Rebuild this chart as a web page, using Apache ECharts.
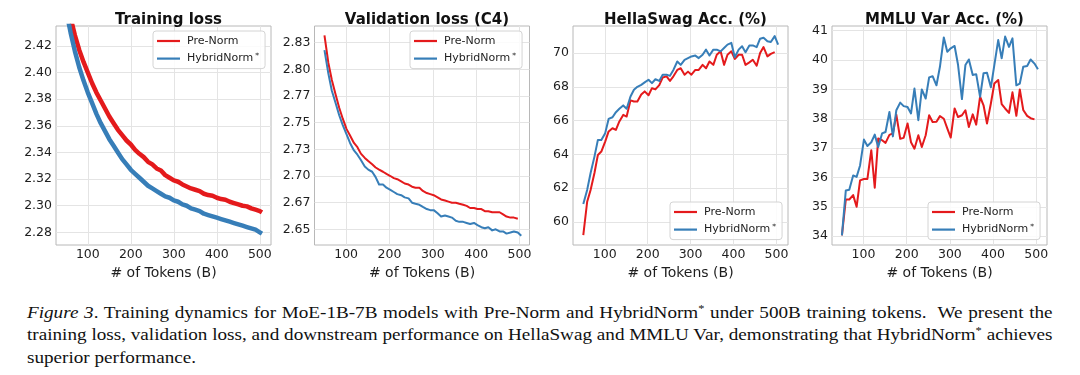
<!DOCTYPE html>
<html>
<head>
<meta charset="utf-8">
<script src="https://cdn.jsdelivr.net/npm/echarts@6/dist/echarts.min.js"></script>
<style>
  html, body { margin: 0; padding: 0; background: #fff; }
  #main { position: absolute; left: 0; top: 0; width: 1080px; height: 300px; }
  #caption {
    position: absolute; left: 27px; top: 302px; width: 1025px;
    font-family: 'Liberation Serif', serif; font-size: 17px; color: #111;
    transform-origin: 0 0;
  }
  #caption .ln { line-height: 22.4px; height: 22.4px; white-space: nowrap; }
  #caption .ln.j { text-align: justify; text-align-last: justify; }
  #caption sup { font-size: 11px; vertical-align: 0; position: relative; top: -6px; }
</style>
</head>
<body>
<div id="main"></div>
<div id="caption">
  <div class="ln j"><i>Figure 3</i>. Training dynamics for MoE-1B-7B models with Pre-Norm and HybridNorm<sup>*</sup> under 500B training tokens.&nbsp; We present the</div>
  <div class="ln j">training loss, validation loss, and downstream performance on HellaSwag and MMLU Var, demonstrating that HybridNorm<sup>*</sup> achieves</div>
  <div class="ln">superior performance.</div>
</div>
<script>
// ---- data ----
var tokenTicks = [100, 200, 300, 400, 500];

// training loss (sampled every 10B tokens)
var trainTokens = [50, 60, 70, 80, 90, 100, 110, 120, 130, 140,
  150, 160, 170, 180, 190, 200, 210, 220, 230, 240,
  250, 260, 270, 280, 290, 300, 310, 320, 330, 340,
  350, 360, 370, 380, 390, 400, 410, 420, 430, 440,
  450, 460, 470, 480, 490, 500, 505];
var trainPre = [2.462, 2.441, 2.428, 2.417, 2.408, 2.400, 2.392, 2.385, 2.379, 2.373,
  2.367, 2.362, 2.357, 2.353, 2.349, 2.346, 2.342, 2.339, 2.3365, 2.333,
  2.331, 2.328, 2.3265, 2.323, 2.321, 2.319, 2.318, 2.316, 2.3145, 2.313,
  2.312, 2.311, 2.309, 2.308, 2.3075, 2.306, 2.305, 2.3045, 2.303, 2.302,
  2.301, 2.300, 2.2995, 2.298, 2.297, 2.296, 2.295];
var trainHybrid = [2.446, 2.430, 2.416, 2.404, 2.394, 2.385, 2.377, 2.369, 2.362, 2.356,
  2.350, 2.345, 2.340, 2.335, 2.331, 2.327, 2.324, 2.321, 2.318, 2.315,
  2.313, 2.311, 2.309, 2.307, 2.306, 2.304, 2.303, 2.301, 2.300, 2.298,
  2.297, 2.296, 2.294, 2.293, 2.292, 2.291, 2.290, 2.289, 2.288, 2.287,
  2.286, 2.285, 2.284, 2.283, 2.282, 2.280, 2.279];
var trainYTicks = [2.28, 2.30, 2.32, 2.34, 2.36, 2.38, 2.40, 2.42];

// evaluation checkpoints (Pre-Norm stops one checkpoint earlier)
var evalTokens = [50, 59, 67, 76, 84, 92, 101, 109, 118, 126,
  134, 143, 151, 160, 168, 176, 185, 193, 202, 210,
  218, 227, 235, 244, 252, 260, 269, 277, 286, 294,
  302, 311, 319, 328, 336, 344, 353, 361, 370, 378,
  386, 395, 403, 412, 420, 428, 437, 445, 454, 462,
  470, 479, 487, 496, 504];

var valPre = [2.832, 2.806, 2.790, 2.776, 2.764, 2.754, 2.744, 2.738, 2.731, 2.727,
  2.721, 2.717, 2.714, 2.711, 2.708, 2.706, 2.704, 2.702, 2.700, 2.698,
  2.697, 2.695, 2.693, 2.692, 2.690, 2.689, 2.689, 2.686, 2.684, 2.683,
  2.682, 2.680, 2.678, 2.677, 2.676, 2.675, 2.675, 2.674, 2.673, 2.672,
  2.670, 2.670, 2.669, 2.669, 2.667, 2.667, 2.666, 2.666, 2.666, 2.664,
  2.662, 2.661, 2.661, 2.660];
var valHybrid = [2.818, 2.796, 2.780, 2.768, 2.757, 2.748, 2.739, 2.731, 2.724, 2.720,
  2.715, 2.709, 2.706, 2.704, 2.699, 2.692, 2.692, 2.689, 2.687, 2.685,
  2.683, 2.682, 2.680, 2.679, 2.675, 2.674, 2.673, 2.671, 2.669, 2.668,
  2.668, 2.665, 2.662, 2.663, 2.662, 2.661, 2.658, 2.657, 2.657, 2.656,
  2.655, 2.656, 2.654, 2.652, 2.651, 2.652, 2.649, 2.650, 2.648, 2.648,
  2.646, 2.647, 2.648, 2.647, 2.644];
var valYTicks = [2.65, 2.675, 2.70, 2.725, 2.75, 2.775, 2.80, 2.825];
var valYLabels = ['2.65', '2.67', '2.70', '2.73', '2.75', '2.77', '2.80', '2.83'];

var hellaPre = [59.23, 61.2, 61.9, 62.9, 63.97, 64.17, 64.76, 65.36, 65.55, 65.45,
  65.95, 66.34, 66.24, 67.2, 67.13, 67.13, 67.55, 67.73, 67.5, 67.92,
  67.85, 68.1, 68.55, 68.62, 68.35, 68.62, 69.0, 69.1, 68.72, 68.9,
  68.72, 69.0, 69.0, 69.3, 69.1, 69.5, 69.3, 69.9, 70.1, 69.3,
  69.9, 70.1, 69.65, 69.9, 69.9, 69.3, 69.45, 69.6, 69.25, 70.0,
  70.35, 69.8, 69.95, 70.05];
var hellaHybrid = [61.07, 61.9, 62.9, 63.87, 64.86, 64.86, 65.26, 66.1, 66.2, 66.5,
  66.7, 66.9, 66.7, 67.43, 67.83, 68.0, 68.12, 68.26, 68.42, 68.22,
  68.45, 68.35, 68.72, 68.72, 68.65, 69.0, 69.5, 69.3, 69.6, 69.7,
  69.8, 69.85, 69.7, 69.9, 70.2, 69.85, 70.2, 70.2, 70.1, 70.3,
  70.5, 70.6, 69.75, 70.2, 70.4, 70.05, 70.45, 70.45, 70.35, 70.85,
  70.9, 70.7, 70.65, 71.0, 70.5];
var hellaYTicks = [60, 62, 64, 66, 68, 70];

var mmluPre = [34.03, 35.25, 35.25, 35.4, 35.0, 35.9, 35.95, 35.95, 36.93, 35.65,
  37.33, 37.27, 37.18, 37.45, 37.5, 38.14, 37.32, 37.35, 37.84, 37.2,
  36.98, 37.44, 37.04, 37.44, 38.12, 37.89, 37.9, 38.09, 38.0, 37.67,
  37.36, 38.35, 38.06, 38.12, 38.29, 37.72, 38.15, 37.8, 38.75, 38.46,
  37.84, 38.52, 39.2, 39.32, 38.5, 38.35, 38.2, 38.9, 38.1, 39.0,
  38.3, 38.1, 38.02, 37.98];
var mmluHybrid = [34.03, 35.56, 35.58, 36.07, 36.02, 36.41, 37.29, 37.07, 37.2, 37.46,
  37.04, 37.5, 37.55, 38.23, 37.4, 38.29, 38.55, 38.43, 38.4, 38.18,
  39.03, 37.95, 39.0, 38.69, 39.41, 39.45, 39.14, 39.77, 40.77, 40.28,
  40.4, 40.48, 39.83, 38.67, 39.83, 40.02, 39.49, 39.52, 38.75, 39.55,
  39.57, 39.07, 39.83, 40.68, 40.06, 40.8, 40.45, 40.74, 39.14, 39.2,
  39.77, 39.8, 40.02, 39.88, 39.69];
var mmluYTicks = [34, 35, 36, 37, 38, 39, 40, 41];

// ---- chart ----
var RED = '#e41a1c', BLUE = '#377eb8';
var FONT = 'DejaVu Sans';
var TEXT = '#1e1e1e';

function pairs(xs, ys) {
  var out = [];
  for (var i = 0; i < ys.length; i++) out.push([xs[i], ys[i]]);
  return out;
}

var panels = [
  { title: 'Training loss', left: 56, xr: [26, 526], yr: [2.2705, 2.435],
    yTicks: trainYTicks, fmt: function (v) { return v.toFixed(2); },
    xs: trainTokens, pre: trainPre, hyb: trainHybrid, width: 4.5,
    legend: { left: 153, top: 31 } },
  { title: 'Validation loss (C4)', left: 314.5, xr: [27, 523], yr: [2.6353, 2.8407],
    yTicks: valYTicks, fmt: function (v) {
      var best = 0;
      for (var i = 1; i < valYTicks.length; i++) {
        if (Math.abs(valYTicks[i] - v) < Math.abs(valYTicks[best] - v)) best = i;
      }
      return valYLabels[best];
    },
    xs: evalTokens, pre: valPre, hyb: valHybrid, width: 2,
    legend: { left: 410, top: 31 } },
  { title: 'HellaSwag Acc. (%)', left: 573, xr: [26, 527], yr: [58.64, 71.6],
    yTicks: hellaYTicks, fmt: function (v) { return String(v); },
    xs: evalTokens, pre: hellaPre, hyb: hellaHybrid, width: 2,
    legend: { left: 670, top: 202 } },
  { title: 'MMLU Var Acc. (%)', left: 832, xr: [27, 525], yr: [33.70, 41.16],
    yTicks: mmluYTicks, fmt: function (v) { return String(v); },
    xs: evalTokens, pre: mmluPre, hyb: mmluHybrid, width: 2,
    legend: { left: 928, top: 202 } }
];

var GRID_W = 215, GRID_TOP = 26, GRID_H = 219;

var option = {
  animation: false,
  backgroundColor: '#fff',
  title: [], grid: [], xAxis: [], yAxis: [], legend: [], series: []
};

panels.forEach(function (p, i) {
  option.title.push({
    text: p.title,
    left: p.left + GRID_W / 2,
    top: 8,
    textAlign: 'center',
    textStyle: { fontFamily: FONT, fontSize: 15, fontWeight: 'bold', color: '#111' }
  });
  option.grid.push({
    left: p.left, top: GRID_TOP, width: GRID_W, height: GRID_H,
    show: true, borderColor: '#b8b8b8', borderWidth: 1, backgroundColor: '#fff'
  });
  option.xAxis.push({
    type: 'value', gridIndex: i, min: p.xr[0], max: p.xr[1],
    axisLine: { show: false },
    axisTick: { show: false, customValues: tokenTicks },
    axisLabel: { customValues: tokenTicks, fontFamily: FONT, fontSize: 12.5, color: TEXT, margin: 3 },
    splitLine: { show: true, lineStyle: { color: '#e4e4e4', width: 1 } },
    name: '# of Tokens (B)', nameLocation: 'middle', nameGap: 14,
    nameTextStyle: { fontFamily: FONT, fontSize: 14, color: TEXT }
  });
  option.yAxis.push({
    type: 'value', gridIndex: i, min: p.yr[0], max: p.yr[1],
    axisLine: { show: false },
    axisTick: { show: false, customValues: p.yTicks },
    axisLabel: { customValues: p.yTicks, formatter: p.fmt, fontFamily: FONT, fontSize: 12.5, color: TEXT, margin: 4 },
    splitLine: { show: true, lineStyle: { color: '#e4e4e4', width: 1 } }
  });
  option.legend.push({
    data: ['Pre-Norm', 'HybridNorm*'],
    orient: 'vertical',
    left: p.legend.left, top: p.legend.top,
    icon: 'rect', itemWidth: 23, itemHeight: 2.2, itemGap: 3.6,
    padding: [3, 6, 3, 4],
    backgroundColor: 'rgba(255,255,255,0.85)',
    borderColor: '#d4d4d4', borderWidth: 1, borderRadius: 3,
    selectedMode: false,
    formatter: function (name) { return name === 'HybridNorm*' ? 'HybridNorm{s|*}' : name; },
    textStyle: {
      fontFamily: FONT, fontSize: 11, color: TEXT, lineHeight: 14, padding: [0, 0, 0, 2],
      rich: { s: { fontFamily: FONT, fontSize: 7.5, verticalAlign: 'top', lineHeight: 10, padding: [0, 0, 0, 2] } }
    }
  });
  option.series.push({
    name: 'Pre-Norm', type: 'line', xAxisIndex: i, yAxisIndex: i,
    data: pairs(p.xs, p.pre), showSymbol: false, symbol: 'none',
    color: RED, lineStyle: { color: RED, width: p.width, join: 'round' }, z: 3
  });
  option.series.push({
    name: 'HybridNorm*', type: 'line', xAxisIndex: i, yAxisIndex: i,
    data: pairs(p.xs, p.hyb), showSymbol: false, symbol: 'none',
    color: BLUE, lineStyle: { color: BLUE, width: p.width, join: 'round' }, z: 3
  });
});

var chart = echarts.init(document.getElementById('main'), null, { renderer: 'canvas' });
chart.setOption(option);

// fit caption lines to the 1025px text block
(function () {
  var cap = document.getElementById('caption');
  var lines = cap.querySelectorAll('.ln');
  var maxW = 0;
  lines.forEach(function (l) {
    l.style.display = 'inline-block';
    maxW = Math.max(maxW, l.getBoundingClientRect().width);
  });
  lines.forEach(function (l) { l.style.display = 'block'; });
  var s = 1025 / maxW;
  cap.style.width = (1025 / s + 0.5) + 'px';
  cap.style.transform = 'scaleX(' + s + ')';
})();
</script>
</body>
</html>
